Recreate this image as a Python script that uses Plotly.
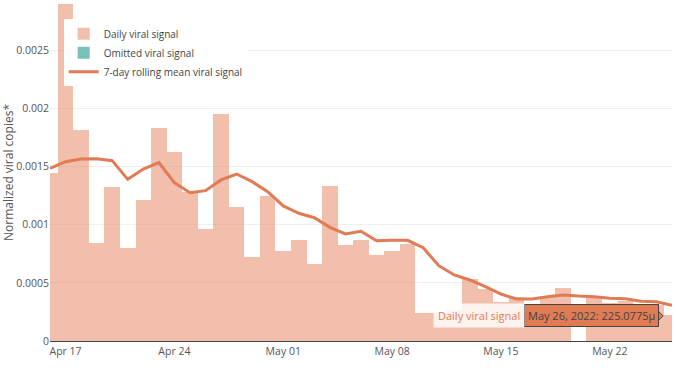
import plotly.graph_objects as go
import pandas as pd

# ---- data ----
bar_dates = [
    "2022-04-16", "2022-04-17", "2022-04-18", "2022-04-19", "2022-04-20", "2022-04-21",
    "2022-04-22", "2022-04-23", "2022-04-24", "2022-04-25", "2022-04-26", "2022-04-27",
    "2022-04-28", "2022-04-29", "2022-04-30", "2022-05-01", "2022-05-02", "2022-05-03",
    "2022-05-04", "2022-05-05", "2022-05-06", "2022-05-07", "2022-05-08", "2022-05-09",
    "2022-05-10", "2022-05-11", "2022-05-12", "2022-05-13", "2022-05-14", "2022-05-15",
    "2022-05-16", "2022-05-17", "2022-05-18", "2022-05-19", "2022-05-21", "2022-05-22",
    "2022-05-23", "2022-05-24", "2022-05-25", "2022-05-26",
]
daily_signal = [
    0.00145, 0.00290, 0.00182, 0.000846, 0.001325, 0.000798,
    0.001213, 0.001836, 0.001629, 0.00128, 0.00096, 0.001953,
    0.001153, 0.000726, 0.001248, 0.000772, 0.000869, 0.000665,
    0.001334, 0.000829, 0.000869, 0.000743, 0.000775, 0.000835,
    0.000240, 0.000240, 0.000270, 0.000531, 0.000445, 0.000338,
    0.000381, 0.000300, 0.000387, 0.000453, 0.000367, 0.000330,
    0.000340, 0.000220, 0.000310, 0.0002250775,
]

# omitted sample day (value not shown)
omitted_dates = ["2022-05-20"]
omitted_signal = [None]

mean_dates = [d.strftime("%Y-%m-%d") for d in pd.date_range("2022-04-16", "2022-05-26", freq="D")]
rolling_mean = [
    0.001486, 0.001543, 0.001566, 0.001569, 0.001552, 0.001391,
    0.001480, 0.001535, 0.001362, 0.001276, 0.001294, 0.001386,
    0.001437, 0.001371, 0.001285, 0.001162, 0.001099, 0.001061,
    0.000978, 0.000921, 0.000944, 0.000863, 0.000866, 0.000866,
    0.000803, 0.000648, 0.000568, 0.000525, 0.000467, 0.000404,
    0.000361, 0.000361, 0.000381, 0.000396, 0.000387, 0.000381,
    0.000367, 0.000364, 0.000342, 0.000338, 0.000307,
]

LINE = "#e07b54"
TEAL = "#79c0bb"
FONT = "Open Sans"

fig = go.Figure()
fig.add_trace(go.Bar(
    x=bar_dates, y=daily_signal, name="Daily viral signal",
    marker=dict(color="rgba(228,128,90,0.5)", line=dict(width=0)),
))
fig.add_trace(go.Bar(
    x=omitted_dates, y=omitted_signal, name="Omitted viral signal",
    marker=dict(color=TEAL, line=dict(width=0)),
))
fig.add_trace(go.Scatter(
    x=mean_dates, y=rolling_mean, name="7-day rolling mean viral signal",
    mode="lines", line=dict(color=LINE, width=3),
))

# simulated hover label on the last daily bar
hx = bar_dates[-1]
hy = daily_signal[-1]
hover_text = f"{pd.Timestamp(hx).strftime('%b %d, %Y')}: {hy*1e6:.4f}µ"
fig.add_annotation(
    x=hx, y=hy, xref="x", yref="y", text=hover_text, showarrow=False,
    xanchor="right", yanchor="middle", xshift=-13, yshift=-1,
    bgcolor=LINE, bordercolor="#444", borderwidth=1, borderpad=3,
    font=dict(family=FONT, size=11, color="#444"),
)
fig.add_annotation(
    x=hx, y=hy, xref="x", yref="y", text="Daily viral signal", showarrow=False,
    xanchor="right", yanchor="middle", xshift=-147, yshift=-1,
    bgcolor="rgba(255,255,255,0.8)", borderpad=4,
    font=dict(family=FONT, size=11, color=LINE),
)
fig.add_shape(
    type="path", xref="x", yref="y", xsizemode="pixel", ysizemode="pixel",
    xanchor=hx, yanchor=hy, path="M-14,-6 L-9,-1 L-14,4 Z",
    fillcolor=LINE, line=dict(color="#444", width=1), layer="above",
)

fig.update_layout(
    width=676, height=372,
    margin=dict(l=50, r=4, t=4, b=31, autoexpand=False),
    paper_bgcolor="white", plot_bgcolor="white",
    font=dict(family=FONT, size=10.5, color="#555"),
    bargap=0, barmode="overlay",
    showlegend=True,
    legend=dict(
        x=0.022, y=0.955, xanchor="left", yanchor="top",
        bgcolor="white", font=dict(family=FONT, size=10, color="#444"),
        traceorder="normal",
    ),
    hovermode="closest",
)
fig.update_xaxes(
    type="date", range=["2022-04-16", "2022-05-26"],
    tick0="2022-04-17", dtick=7 * 86400000, tickformat="%b %d",
    showgrid=False, showline=True, linecolor="#444", linewidth=1,
    ticks="", zeroline=False, automargin=False,
)
fig.update_yaxes(
    range=[0, 0.0029], dtick=0.0005, showgrid=True, gridcolor="#eeeeee",
    zeroline=False, showline=False, automargin=False,
    title=dict(text="Normalized viral copies*", font=dict(family=FONT, size=12, color="#555")),
)

fig.write_html(
    "out.html",
    config={"displayModeBar": False},
    post_script="document.body.style.margin='0';document.body.style.overflow='hidden';",
)
